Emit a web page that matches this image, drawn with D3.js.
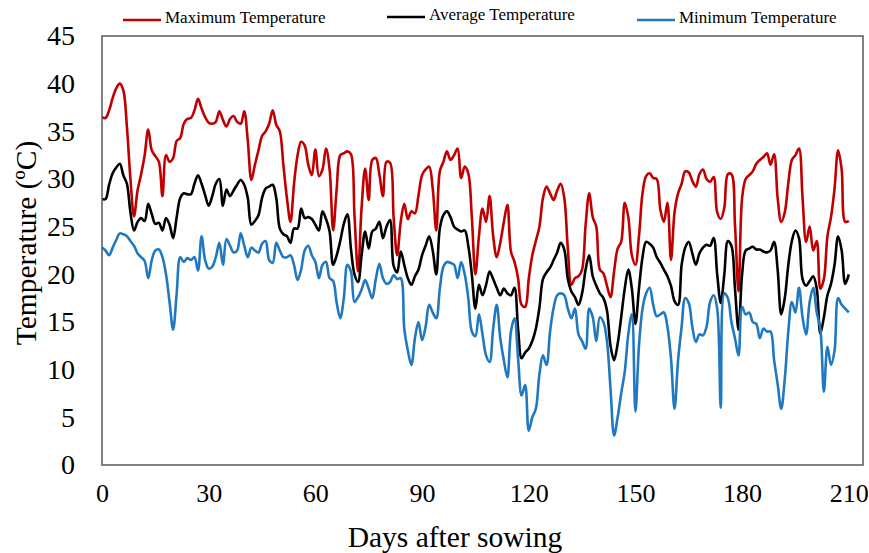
<!DOCTYPE html>
<html>
<head>
<meta charset="utf-8">
<script src="https://cdn.jsdelivr.net/npm/d3@7/dist/d3.min.js"></script>
<style>
  body { margin: 0; background: #fff; }
  svg text { font-family: "Liberation Serif", "Times New Roman", serif; fill: #000; }
</style>
</head>
<body>
<div class="chart"></div>
<script>
// daily temperatures, day 0..210
var maxTemp = [
  36.5, 36.4, 37.2, 38.5, 39.5, 40.0, 39.3, 35.5, 30.0, 26.1,
  28.8, 30.5, 32.5, 35.2, 33.0, 32.4, 31.8, 28.2, 32.5, 31.8,
  32.2, 34.0, 34.3, 35.8, 36.3, 36.4, 37.2, 38.4, 37.4, 36.5,
  35.9, 35.8, 36.0, 37.1, 36.2, 35.5, 36.3, 36.6, 36.0, 35.8,
  37.1, 34.0, 29.9, 31.5, 33.0, 34.5, 35.0, 35.8, 37.2, 35.7,
  35.0, 31.5, 28.0, 25.5, 29.5, 32.5, 33.9, 33.5, 31.5, 30.4,
  33.1, 30.3, 31.0, 33.2, 31.0, 24.6, 29.0, 32.5, 32.7, 32.9,
  32.6, 26.2, 20.3, 27.0, 31.1, 27.8, 32.0, 32.2, 30.5, 28.2,
  31.8, 31.7, 26.0, 22.0, 25.5, 27.4, 25.8, 26.6, 26.4, 28.3,
  30.4, 31.0, 31.3, 29.0, 24.6, 30.8, 31.8, 32.9, 32.0, 32.5,
  33.2, 30.1, 31.3, 30.6, 26.0, 20.0, 24.0, 26.9, 25.5, 28.2,
  24.0, 21.8, 23.3, 25.5, 27.3, 22.4, 21.3, 19.6, 16.8, 16.6,
  19.5, 22.0, 23.5, 25.0, 28.0, 29.2, 28.5, 27.8, 28.8, 29.5,
  28.0, 22.7, 18.9, 19.6, 19.8, 20.5, 25.2, 28.5, 26.0, 25.0,
  20.5, 20.1, 18.8, 17.6, 20.3, 22.7, 23.4, 27.5, 26.0, 22.0,
  21.0, 24.0, 28.5, 30.3, 30.6, 30.1, 30.0, 26.8, 25.5, 27.5,
  21.5, 26.5, 28.5, 29.5, 30.8, 30.7, 29.8, 29.2, 30.5, 31.0,
  30.0, 29.7, 30.2, 26.5, 25.8, 27.0, 30.5, 30.5, 25.2, 18.2,
  28.0, 30.0, 30.4, 30.8, 31.6, 32.0, 32.3, 32.7, 31.5, 32.6,
  28.0, 25.5, 26.5, 29.6, 32.0, 32.5, 33.2, 28.0, 23.4, 25.0,
  22.5, 23.5, 18.5, 19.5, 24.0, 26.0, 29.0, 33.0, 31.0, 25.5,
  25.6
]

var avgTemp = [
  27.9, 27.9, 29.4, 30.6, 31.2, 31.6, 30.4, 29.5, 26.5, 24.6,
  25.5, 25.9, 25.6, 27.4, 26.3, 25.3, 25.4, 24.6, 25.9, 25.2,
  23.8, 26.0, 28.0, 28.5, 28.4, 28.4, 29.5, 30.4, 29.5, 28.3,
  27.2, 28.2, 29.5, 30.0, 27.2, 28.9, 28.2, 28.8, 29.4, 29.9,
  29.4, 28.0, 25.2, 25.6, 26.2, 28.0, 29.0, 29.2, 29.4, 28.0,
  24.8, 24.2, 24.0, 23.3, 24.8, 24.8, 26.9, 25.9, 26.0, 25.8,
  25.2, 24.6, 26.6, 25.8, 24.5, 21.0, 22.0, 23.5, 25.3, 26.3,
  22.7, 20.0, 19.2, 22.0, 24.5, 22.7, 24.5, 24.8, 25.5, 23.8,
  25.0, 25.7, 20.9, 20.2, 22.4, 21.0, 19.6, 18.9, 19.8, 20.5,
  22.0, 23.0, 24.0, 22.5, 20.0, 24.8, 26.2, 26.6, 26.0, 25.0,
  24.7, 24.5, 24.6, 23.0, 20.0, 16.4, 18.9, 17.8, 18.9, 20.3,
  19.5, 18.6, 17.8, 18.5, 18.0, 17.8, 18.6, 14.3, 11.2, 11.8,
  12.2, 13.0, 14.3, 16.5, 19.5, 20.2, 20.7, 21.5, 22.3, 23.3,
  22.6, 19.5, 18.2, 17.6, 16.8, 18.0, 20.5, 22.0, 19.8, 18.8,
  18.0, 17.5, 16.2, 12.5, 11.0, 12.7, 15.5, 18.5, 20.5, 18.5,
  14.8, 18.5, 21.8, 23.4, 23.2, 22.8, 21.8, 21.2, 20.5, 19.8,
  18.8, 17.2, 16.8, 21.0, 22.8, 23.4, 22.2, 21.0, 22.2, 22.8,
  23.1, 23.0, 23.8, 20.0, 17.0, 20.0, 23.5, 23.0, 18.5, 14.2,
  20.0, 22.5, 22.7, 22.9, 22.6, 22.6, 22.4, 22.3, 22.5, 23.4,
  20.5, 15.8, 17.5, 21.0, 23.5, 24.6, 23.8, 19.5, 18.8, 19.3,
  19.8, 18.5, 13.8, 15.5, 17.8, 19.0, 21.0, 24.0, 22.5, 19.0,
  20.0
]

var minTemp = [
  22.8, 22.5, 22.0, 22.8, 23.6, 24.3, 24.2, 24.0, 23.5, 23.0,
  22.2, 21.8, 21.4, 19.6, 21.5, 22.5, 22.6, 21.8, 20.0, 17.1,
  14.2, 18.0, 21.8, 21.3, 21.7, 21.5, 21.8, 20.4, 24.0, 21.5,
  20.6, 20.8, 21.8, 23.3, 21.0, 23.7, 23.0, 22.3, 22.5, 24.3,
  23.0, 21.8, 22.8, 22.5, 22.3, 23.2, 23.5, 21.5, 21.2, 23.3,
  22.5, 21.8, 21.8, 22.0, 21.0, 19.4, 20.5, 22.5, 23.0, 22.0,
  21.3, 19.6, 21.0, 21.3, 19.6, 19.3, 17.0, 15.4, 17.5, 21.0,
  20.3, 17.1, 17.6, 18.4, 19.4, 18.5, 17.5, 19.5, 21.1, 19.6,
  19.0, 19.2, 19.9, 19.5, 19.6, 14.3, 12.0, 10.5, 13.3, 15.0,
  13.1, 14.5, 16.8, 16.0, 15.4, 18.5, 20.8, 21.3, 21.2, 21.0,
  19.6, 21.3, 20.0, 17.5, 14.0, 13.5, 15.8, 13.7, 11.5, 10.8,
  14.3, 16.8, 13.3, 11.0, 9.2, 14.0, 15.4, 11.2, 7.3, 8.4,
  3.6, 5.0, 5.9, 9.5, 11.5, 10.5, 14.0, 16.5, 17.8, 18.0,
  17.8, 16.4, 15.4, 16.4, 13.7, 13.0, 12.2, 16.4, 15.5, 13.0,
  15.5, 15.0, 13.0, 8.0, 3.1, 5.0, 7.5, 9.8, 13.7, 15.8,
  5.6, 12.5, 16.4, 18.0, 18.6, 16.8, 15.6, 15.8, 16.0, 14.5,
  11.2, 5.9, 11.0, 14.5, 17.5, 17.0, 14.5, 12.9, 13.7, 13.6,
  14.5, 17.1, 17.8, 16.4, 6.0, 18.0, 17.5, 15.0, 13.3, 11.5,
  16.6, 15.8, 16.0, 15.0, 14.8, 13.3, 14.3, 14.0, 14.0, 11.0,
  8.5, 5.9, 9.0, 14.0, 17.1, 16.0, 18.6, 15.5, 13.7, 17.1,
  18.6, 16.0, 14.3, 7.7, 12.4, 10.5, 12.0, 17.5, 16.8, 16.4,
  16.0
]

var seriesNames = ['Maximum Temperature', 'Average Temperature', 'Minimum Temperature']
var yTicks = [0, 5, 10, 15, 20, 25, 30, 35, 40, 45]
var xTicks = [0, 30, 60, 90, 120, 150, 180, 210]

var colors = ['#c00000', '#000000', '#2079c0']
var allSeries = [maxTemp, avgTemp, minTemp]

var width = 869
var height = 553
var plot = { left: 102, right: 863, top: 36, bottom: 465 }

var svg = d3.select('.chart')
  .append('svg')
  .attr('width', width)
  .attr('height', height)

var xScale = d3.scaleLinear()
  .domain([0, 214])
  .range([plot.left, plot.right])

var yScale = d3.scaleLinear()
  .domain([0, 45])
  .range([plot.bottom, plot.top])

// Lines
var line = d3.line()
  .x((d, i) => xScale(i))
  .y(d => yScale(d))
  .curve(d3.curveCatmullRom.alpha(0.5))

svg.append('g')
  .selectAll('path')
  .data(allSeries)
  .enter()
  .append('path')
  .attr('d', d => line(d))
  .attr('fill', 'none')
  .attr('stroke', (d, i) => colors[i])
  .attr('stroke-width', 2.6)
  .attr('stroke-linejoin', 'round')

// Plot frame
svg.append('rect')
  .attr('x', plot.left)
  .attr('y', plot.top)
  .attr('width', plot.right - plot.left)
  .attr('height', plot.bottom - plot.top)
  .attr('fill', 'none')
  .attr('stroke', '#595959')
  .attr('stroke-width', 1.5)

// Y-axis
var yAxis = d3.axisLeft(yScale)
  .tickValues(yTicks)
  .tickSize(0)
  .tickPadding(27)

svg.append('g')
  .attr('transform', 'translate(' + plot.left + ',0)')
  .call(yAxis)
  .call(g => g.select('.domain').remove())
  .selectAll('text')
  .attr('font-size', 28)
  .attr('font-family', '"Liberation Serif", "Times New Roman", serif')

// X-axis
var xAxis = d3.axisBottom(xScale)
  .tickValues(xTicks)
  .tickSize(0)
  .tickPadding(19)

svg.append('g')
  .attr('transform', 'translate(0,' + plot.bottom + ')')
  .call(xAxis)
  .call(g => g.select('.domain').remove())
  .selectAll('text')
  .attr('font-size', 26)
  .attr('font-family', '"Liberation Serif", "Times New Roman", serif')

// Axis labels
svg.append('text')
  .attr('x', 455)
  .attr('y', 547)
  .attr('text-anchor', 'middle')
  .attr('font-size', 29.5)
  .text('Days after sowing')

svg.append('text')
  .attr('transform', 'translate(36,243) rotate(-90)')
  .attr('text-anchor', 'middle')
  .attr('font-size', 29.5)
  .text('Temperature (ºC)')

// Legend
var legendX = [123, 387, 637]
var legendY = [18, 15, 18]
var legend = svg.append('g')
  .selectAll('g')
  .data(seriesNames)
  .enter()
  .append('g')
  .attr('transform', (d, i) => 'translate(' + legendX[i] + ',' + legendY[i] + ')')

legend.append('line')
  .attr('x1', 0)
  .attr('x2', 38)
  .attr('y1', 2)
  .attr('y2', 2)
  .attr('stroke', (d, i) => colors[i])
  .attr('stroke-width', 2.6)

legend.append('text')
  .attr('x', 42)
  .attr('y', 5)
  .attr('font-size', 17)
  .text(d => d)
</script>
</body>
</html>
